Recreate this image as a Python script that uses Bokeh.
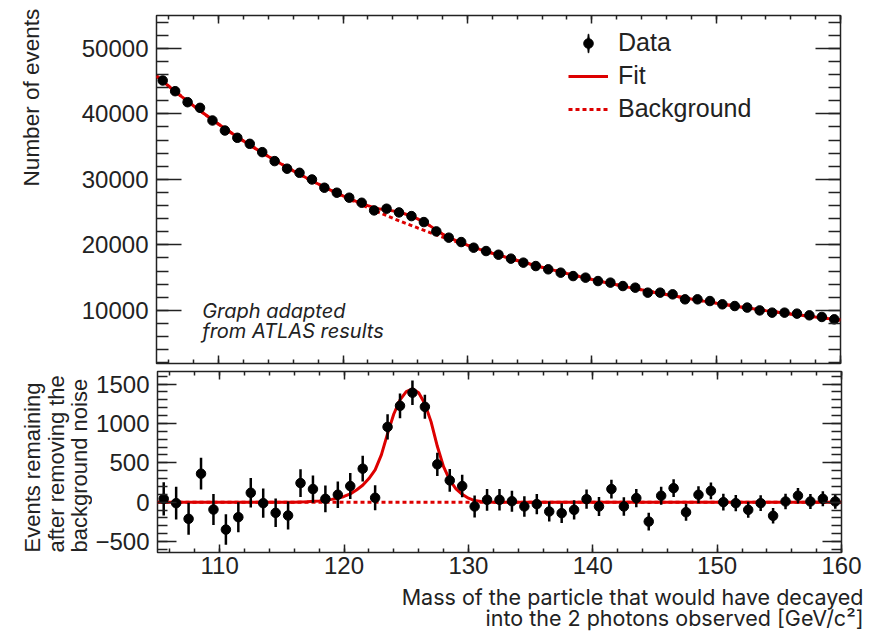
import numpy as np
from bokeh.plotting import figure
from bokeh.models import (ColumnDataSource, LinearAxis, SingleIntervalTicker, Range1d,
                          Legend, LegendItem, Label)
from bokeh.layouts import column, row
from bokeh.embed import file_html
from bokeh.resources import INLINE

# ---------------- data ----------------
mass = np.arange(105.5, 160.0, 1.0)          # bin centres [GeV]

events = [45080, 43450, 41770, 40910, 38980, 37450, 36340, 35420, 34150, 32780,
          31620, 31000, 29980, 28720, 27960, 27200, 26430, 25260, 25520, 24950,
          24390, 23480, 22060, 21100, 20430, 19570, 19060, 18500, 17900, 17290,
          16770, 16270, 15760, 15240, 15000, 14480, 14240, 13720, 13470, 12710,
          12710, 12450, 11690, 11690, 11430, 10930, 10670, 10430, 10000, 9660,
          9660, 9510, 9250, 9000, 8640]

errors = [212, 208, 204, 202, 197, 194, 191, 188, 185, 181,
          178, 176, 173, 169, 167, 165, 163, 159, 160, 158,
          156, 153, 149, 145, 143, 140, 138, 136, 134, 131,
          129, 128, 126, 123, 122, 120, 119, 117, 116, 113,
          113, 112, 108, 108, 107, 105, 103, 102, 100, 98,
          98, 98, 96, 95, 93]

residual = [42, -13, -212, 361, -94, -349, -191, 119, -13, -136,
            -170, 242, 166, 42, 94, 204, 425, 55, 956, 1224,
            1390, 1211, 480, 276, 204, -55, 30, 30, 12, -55,
            -25, -119, -140, -98, 38, -55, 166, -55, 51, -247,
            81, 178, -128, 94, 144, 0, -13, -98, -13, -174,
            8, 81, 8, 42, 8]

bkg_mass = np.arange(105.0, 161.0, 1.0)
bkg_events = [45790, 44190, 42660, 41190, 39770, 38410, 37110, 35850, 34650, 33490,
              32380, 31300, 30270, 29280, 28330, 27410, 26530, 25680, 24860, 24070,
              23310, 22580, 21880, 21200, 20550, 19920, 19310, 18730, 18170, 17620,
              17100, 16590, 16110, 15630, 15180, 14740, 14320, 13910, 13520, 13140,
              12770, 12420, 12070, 11740, 11420, 11110, 10810, 10520, 10240, 9970,
              9710, 9460, 9220, 8980, 8750, 8530]

sig_mass = [105, 116, 117, 118, 118.5, 119, 119.5, 120, 120.5, 121, 121.5, 122, 122.5,
            123, 123.5, 124, 124.5, 125, 125.5, 126, 126.5, 127, 127.5, 128, 128.5,
            129, 129.5, 130, 130.5, 131, 132, 160]
sig_events = [0, 0, 5, 15, 22, 35, 50, 72, 105, 155, 215, 300, 410,
              600, 870, 1120, 1300, 1405, 1440, 1390, 1250, 1020, 710, 450, 280,
              170, 100, 50, 20, 8, 0, 0]

# ---------------- derived series ----------------
ev = np.array(events, float)
er = np.array(errors, float)
rs = np.array(residual, float)
src = ColumnDataSource(dict(m=mass, n=ev, lo=ev - er, hi=ev + er,
                            r=rs, rlo=rs - er, rhi=rs + er))

fit_x = np.union1d(bkg_mass, np.array(sig_mass, float))
fit_y = np.interp(fit_x, bkg_mass, bkg_events) + np.interp(fit_x, sig_mass, sig_events)
zero_line = np.zeros_like(bkg_mass)

TXT = "#222222"
RED = "#dd0000"
FONT = "Liberation Sans"


def add_axis(p, side, ticker, major_in, minor_in, labels):
    ax = LinearAxis(ticker=ticker)
    ax.axis_line_color = None
    ax.major_tick_in = major_in
    ax.major_tick_out = 0
    ax.minor_tick_in = minor_in
    ax.minor_tick_out = 0
    ax.major_tick_line_color = TXT
    ax.minor_tick_line_color = TXT
    ax.major_tick_line_width = 1.5
    ax.minor_tick_line_width = 1.5
    if labels:
        ax.major_label_text_font = FONT
        ax.major_label_text_font_size = "24px"
        ax.major_label_text_color = TXT
        ax.major_label_standoff = 8 if side == "left" else 4
    else:
        ax.major_label_text_font_size = "0px"
        ax.major_label_standoff = 0
    p.add_layout(ax, side)
    return ax


def base_fig(fh, ylo, yhi, left, top, bottom):
    p = figure(frame_width=684, frame_height=fh,
               x_range=Range1d(105, 160), y_range=Range1d(ylo, yhi),
               output_backend="svg", toolbar_location=None,
               x_axis_location=None, y_axis_location=None,
               min_border_left=left, min_border_right=30,
               min_border_top=top, min_border_bottom=bottom)
    p.grid.visible = False
    p.outline_line_color = TXT
    p.outline_line_width = 1.5
    p.background_fill_color = "white"
    p.border_fill_color = "white"
    return p


def text_fig(w, h):
    f = figure(width=w, height=h, x_range=Range1d(0, 1), y_range=Range1d(0, 1),
               output_backend="svg", toolbar_location=None,
               x_axis_location=None, y_axis_location=None, min_border=0)
    f.grid.visible = False
    f.outline_line_color = None
    f.background_fill_color = "white"
    f.border_fill_color = "white"
    return f


# ---------------- top panel ----------------
p1 = base_fig(348, 1900, 55000, 78, 15, 4)
xt = SingleIntervalTicker(interval=10, num_minor_ticks=5)
add_axis(p1, "below", xt, 8, 4, False)
add_axis(p1, "above", xt, 8, 4, False)
yt1 = SingleIntervalTicker(interval=10000, num_minor_ticks=5)
add_axis(p1, "left", yt1, 25, 12, True)
add_axis(p1, "right", yt1, 25, 12, False)

bkg_r = p1.line(bkg_mass, bkg_events, line_color=RED, line_width=3, line_dash="4 3")
fit_r = p1.line(fit_x, fit_y, line_color=RED, line_width=3)
p1.segment(x0="m", y0="lo", x1="m", y1="hi", source=src, line_color="black", line_width=2.5)
circ = p1.scatter(x="m", y="n", source=src, size=9.5, marker="circle",
                  fill_color="black", line_color="black")
bar_r = p1.ellipse(x=np.array([np.nan]), y=np.array([np.nan]), width=2.5, height=30,
                   width_units="screen", height_units="screen",
                   fill_color="black", line_color="black", line_width=1)

legend = Legend(items=[LegendItem(label="Data", renderers=[bar_r, circ]),
                       LegendItem(label="Fit", renderers=[fit_r]),
                       LegendItem(label="Background", renderers=[bkg_r])],
                location=(412, 240), glyph_width=40, glyph_height=24, label_height=24,
                spacing=4, padding=0, margin=0, label_standoff=10,
                label_text_font=FONT, label_text_font_size="25px", label_text_color=TXT,
                border_line_color=None, background_fill_alpha=0)
p1.add_layout(legend)

for txt, yy in (("Graph adapted", 53), ("from ATLAS results", 32.3)):
    p1.add_layout(Label(x=45.7, y=yy, x_units="screen", y_units="screen", text=txt,
                        text_font="Inter", text_font_style="italic", text_font_size="20px",
                        text_color=TXT, text_baseline="alphabetic"))

lf1 = text_fig(78, 367)
lf1.add_layout(Label(x=30.7, y=358.7, x_units="screen", y_units="screen",
                     text="Number of events", angle=np.pi / 2, text_align="right",
                     text_baseline="alphabetic", text_font=FONT, text_font_size="22.5px",
                     text_color=TXT))

# ---------------- bottom panel ----------------
p2 = base_fig(181, -640, 1660, 64, 4, 26)
xt2 = SingleIntervalTicker(interval=10, num_minor_ticks=5)
add_axis(p2, "below", xt2, 8, 4, True)
add_axis(p2, "above", xt2, 8, 4, False)
yt2 = SingleIntervalTicker(interval=500, num_minor_ticks=5)
yl = add_axis(p2, "left", yt2, 19, 10, True)
yl.major_label_overrides = {-500: "\u2212500"}
add_axis(p2, "right", yt2, 19, 10, False)

p2.line(bkg_mass, zero_line, line_color=RED, line_width=3, line_dash="4 3")
p2.line(sig_mass, sig_events, line_color=RED, line_width=3)
p2.segment(x0="m", y0="rlo", x1="m", y1="rhi", source=src, line_color="black", line_width=2.5)
p2.scatter(x="m", y="r", source=src, size=9.5, marker="circle",
           fill_color="black", line_color="black")

lf2 = text_fig(92, 211)
for txt, xx in (("Events remaining", 32.3), ("after removing the", 55.7),
                ("background noise", 79.0)):
    lf2.add_layout(Label(x=xx, y=26, x_units="screen", y_units="screen", text=txt,
                         angle=np.pi / 2, text_align="left", text_baseline="alphabetic",
                         text_font=FONT, text_font_size="22px", text_color=TXT))

# ---------------- x-axis title (two right-aligned lines) ----------------
xlab = text_fig(870, 54)
for txt, yy in (("Mass of the particle that would have decayed", 35.3),
                ("into the 2 photons observed [GeV/c\u00b2]", 14.7)):
    xlab.add_layout(Label(x=863, y=yy, x_units="screen", y_units="screen", text=txt,
                          text_align="right", text_baseline="alphabetic",
                          text_font="Inter", text_font_size="21.5px", text_color=TXT))

layout = column(row(column(lf1), p1), row(column(lf2), p2), xlab)
open("out.html", "w").write(file_html(layout, INLINE))
